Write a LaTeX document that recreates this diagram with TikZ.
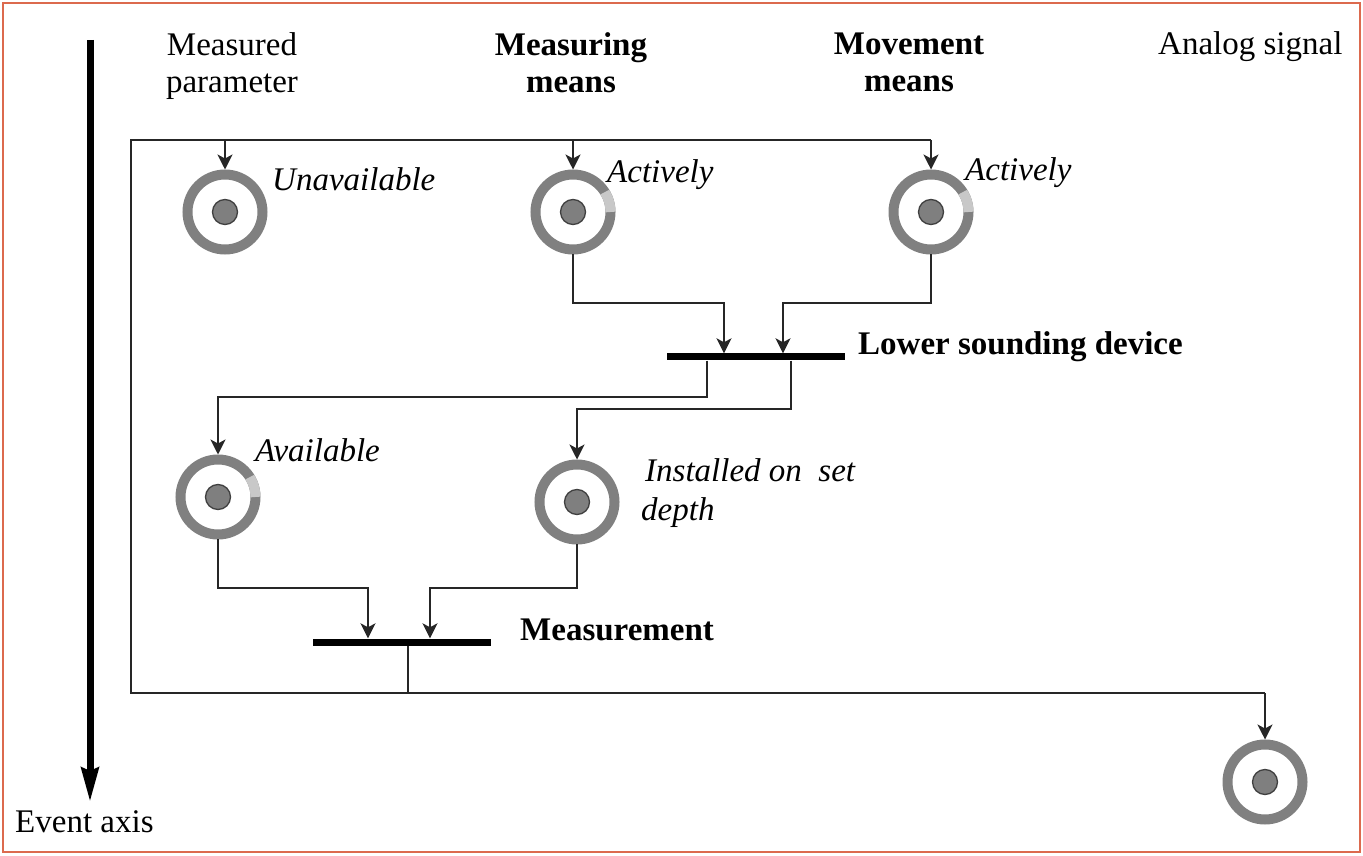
\documentclass[tikz,border=0pt]{standalone}
\usepackage{fontspec}
\setmainfont{Liberation Serif}
\usetikzlibrary{arrows.meta,calc}
\definecolor{ringgray}{HTML}{808080}
\definecolor{lightseg}{HTML}{C8C8C8}
\definecolor{dotgray}{HTML}{7F7F7F}
\definecolor{framecol}{HTML}{DC6A4E}
\definecolor{wire}{HTML}{262626}
\tikzset{
  txt/.style={inner sep=0pt, font=\fontsize{33}{37}\selectfont},
  hdr/.style={txt, align=center, anchor=north},
  bhdr/.style={hdr, font=\fontsize{33}{37}\selectfont\bfseries},
  lbl/.style={txt, anchor=base west, font=\fontsize{33}{39}\selectfont\itshape},
  blbl/.style={txt, anchor=base west, font=\fontsize{33}{37}\selectfont\bfseries},
  place/.style={circle, draw=ringgray, line width=10pt, minimum size=75pt, inner sep=0pt},
  dotmark/.style={fill=dotgray, draw=black!75, line width=1.3pt},
  lightarc/.style={draw=lightseg, line width=10pt},
  bar/.style={rectangle, fill=black, inner sep=0pt, minimum width=178pt, minimum height=7pt},
  wireline/.style={draw=wire, line width=1.7pt},
  arr/.style={wireline, -{Stealth[length=15pt,width=15pt,inset=4pt]}},
  axisarr/.style={draw=black, line width=7pt, -{Stealth[length=34pt,width=17pt,inset=3pt]}}
}
\begin{document}
\begin{tikzpicture}[x=1pt,y=1pt]
\useasboundingbox (0,0) rectangle (1363,855);
\draw[framecol, line width=2pt] (3,3) rectangle (1360,852);

% event axis
\coordinate (axtop) at (90,815);
\coordinate (axbot) at (90,53);
\draw[axisarr] (axtop) -- (axbot);
\node[txt, anchor=base west] (evt) at (15,23) {Event axis};

% headers
\node[hdr] (hmp) at (232,822.5) {Measured\\parameter};
\node[bhdr] (hmm) at (571,822.5) {Measuring\\means};
\node[bhdr] (hmv) at (909,822.5) {Movement\\means};
\node[txt, anchor=base west] (han) at (1158,800) {Analog signal};

% places
\node[place] (p1) at (225,643) {};
\node[place] (p2) at (573,643) {};
\node[place] (p3) at (931,643) {};
\node[place] (p4) at (218,358) {};
\node[place] (p5) at (577,353) {};
\node[place] (p6) at (1265,73) {};
\foreach \p in {p2,p3,p4}
  \draw[lightarc] ([shift={(0:37.5)}]\p.center) arc[start angle=0, end angle=32, radius=37.5];
\foreach \p in {p1,p2,p3,p4,p5,p6}
  \draw[dotmark] (\p.center) circle (12.5);

% place labels
\node[lbl] (l1) at (272,664) {Unavailable};
\node[lbl] (l2) at (607,672) {Actively};
\node[lbl] (l3) at (965,674) {Actively};
\node[lbl] (l4) at (255,393) {Available};
\node[txt, anchor=north west, align=left, font=\fontsize{33}{39}\selectfont\itshape] (l5) at (641,397) {\hspace*{4pt}Installed on~ set\\depth};

% transitions
\node[bar] (t1) at (756,498) {};
\node[bar] (t2) at (402,213) {};
\node[blbl] (tl1) at (858,500) {Lower sounding device};
\node[blbl] (tl2) at (520,215) {Measurement};

% top bus and return line
\coordinate (busL) at (131,715);
\coordinate (busR) at (931,715);
\coordinate (retL) at (131,162);
\coordinate (retR) at (1265,162);
\draw[wireline] (busR) -- (busL) -- (retL) -- (retR);
\draw[arr] (retR) -- (p6.north);
\draw[arr] (p1 |- busL) -- (p1.north);
\draw[arr] (p2 |- busL) -- (p2.north);
\draw[arr] (busR) -- (p3.north);

% inputs of t1
\coordinate (t1a) at (724,552);
\coordinate (t1b) at (783,552);
\draw[arr] (p2.south) |- (t1a) -- (t1a |- t1.north);
\draw[arr] (p3.south) |- (t1b) -- (t1b |- t1.north);

% outputs of t1
\coordinate (t1c) at (707,458);
\coordinate (t1d) at (791,446);
\draw[arr] (t1c |- t1.south) -- (t1c) -| (p4.north);
\draw[arr] (t1d |- t1.south) -- (t1d) -| (p5.north);

% inputs of t2
\coordinate (t2a) at (368,267);
\coordinate (t2b) at (430,267);
\draw[arr] (p4.south) |- (t2a) -- (t2a |- t2.north);
\draw[arr] (p5.south) |- (t2b) -- (t2b |- t2.north);

% output of t2
\coordinate (t2o) at (408,162);
\draw[wireline] (t2o |- t2.south) -- (t2o);
\end{tikzpicture}
\end{document}
